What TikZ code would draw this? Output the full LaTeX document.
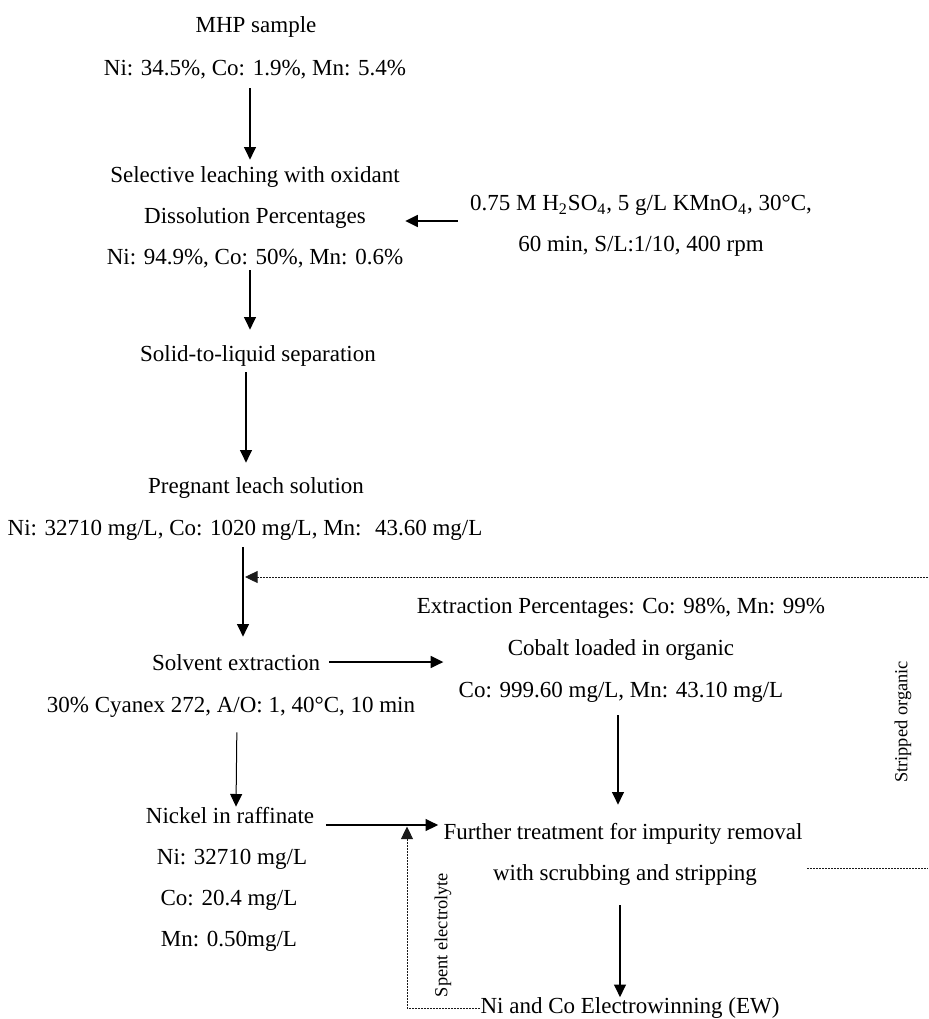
\documentclass[tikz,border=0pt]{standalone}
\usepackage{fontspec}
\setmainfont{Liberation Serif}
\usetikzlibrary{arrows.meta,positioning,calc}
\definecolor{procink}{HTML}{000000}
\definecolor{recink}{HTML}{1A1A1A}
\tikzset{
  stream/.style={-{Triangle[length=6.3pt,width=6pt]},line width=0.7pt,procink},
  recyc/.style={-{Triangle[length=6.3pt,width=6pt]},line width=0.45pt,recink,dash pattern=on 1pt off 0.5pt},
  lbl/.style={inner sep=0pt,text height=8pt,text depth=2.5pt,font=\fontsize{11.5}{13}\selectfont}
}
\begin{document}
\begin{tikzpicture}[x=0.5pt,y=-0.5pt,
  sidelbl/.style={inner sep=0pt,rotate=90,font=\fontsize{9.2}{11}\selectfont},
  thinstream/.style={stream,line width=0.5pt}]
\useasboundingbox (0,0) rectangle (928,1019);
% feed and leaching
\node[lbl] (mhp) at (256,27) {MHP sample};
\node[lbl] (mhpc) at (255,70) {Ni: 34.5\%, Co: 1.9\%, Mn: 5.4\%};
\node[lbl] (leach) at (255,177) {Selective leaching with oxidant};
\node[lbl] (diss) at (255,218) {Dissolution Percentages};
\node[lbl] (dissc) at (255,259) {Ni: 94.9\%, Co: 50\%, Mn: 0.6\%};
\node[lbl] (cond) at (641,205) {0.75 M H\textsubscript{2}SO\textsubscript{4}, 5 g/L KMnO\textsubscript{4}, 30°C,};
\node[lbl] (cond2) at (641,246) {60 min, S/L:1/10, 400 rpm};
\node[lbl] (sls) at (258,356) {Solid-to-liquid separation};
\node[lbl] (pls) at (256,488) {Pregnant leach solution};
\node[lbl] (plsc) at (245,530) {Ni: 32710 mg/L, Co: 1020 mg/L, Mn: \ 43.60 mg/L};
% solvent extraction
\node[lbl] (sx) at (236,665) {Solvent extraction};
\node[lbl] (sxc) at (231,707) {30\% Cyanex 272, A/O: 1, 40°C, 10 min};
\node[lbl] (ext) at (621,608) {Extraction Percentages: Co: 98\%, Mn: 99\%};
\node[lbl] (org) at (621,650) {Cobalt loaded in organic};
\node[lbl] (orgc) at (621,692) {Co: 999.60 mg/L, Mn: 43.10 mg/L};
% products
\node[lbl] (raf) at (230,818) {Nickel in raffinate};
\node[lbl] (rafni) at (232,859) {Ni: 32710 mg/L};
\node[lbl] (rafco) at (229,900) {Co: 20.4 mg/L};
\node[lbl] (rafmn) at (229,941) {Mn: 0.50mg/L};
\node[lbl] (treat) at (623,834) {Further treatment for impurity removal};
\node[lbl] (treat2) at (625,875) {with scrubbing and stripping};
\node[lbl] (ew) at (630,1008) {Ni and Co Electrowinning (EW)};
\node[sidelbl] (spent) at (443,935) {Spent electrolyte};
\node[sidelbl] (strip) at (903,722) {Stripped organic};
\coordinate (retstrip) at (928,577);
\coordinate (retorg) at (928,868);
\coordinate (spentjoin) at (407,826.5);
% main flow
\draw[stream,shorten <=3.75pt,shorten >=3.25pt] ([xshift=-2.5pt]mhpc.south) -- ([xshift=-2.5pt]mhpc.south |- leach.north);
\draw[stream,shorten <=6pt,shorten >=19.5pt] ([yshift=-8pt]cond.west) -- ([yshift=-8pt]cond.west -| diss.east);
\draw[stream,shorten <=0.25pt,shorten >=7.75pt] ([xshift=-2.5pt]dissc.south) -- ([xshift=-2.5pt]dissc.south |- sls.north);
\draw[stream,shorten <=2.75pt,shorten >=7.25pt] ([xshift=-6pt]sls.south) -- ([xshift=-6pt]sls.south |- pls.north);
\draw[stream,shorten <=3.25pt,shorten >=8.75pt] ([xshift=-1pt]plsc.south) -- ([xshift=-1pt]plsc.south |- sx.north);
\draw[stream,shorten <=4.5pt,shorten >=7.5pt] ([yshift=1.5pt]sx.east) -- ([yshift=1.5pt]sx.east -| orgc.west);
\draw[thinstream,shorten <=7.25pt,shorten >=0.25pt] ([xshift=3pt]sxc.south) -- ([xshift=2.5pt]sxc.south |- raf.north);
\draw[stream,shorten <=5.75pt,shorten >=2.5pt] ([yshift=-3.5pt]raf.east) -- ([yshift=-3.5pt]raf.east -| treat.west);
\draw[stream,shorten <=6.25pt,shorten >=9.25pt] ([xshift=-1.5pt]orgc.south) -- ([xshift=-1.5pt]orgc.south |- treat.north);
\draw[stream,shorten <=9.75pt] ([xshift=-2.5pt]treat2.south) -- ([xshift=-2.5pt]treat2.south |- ew.north);
% recycle streams
\draw[recyc] (retstrip) -- (retstrip -| plsc.south);
\draw[recyc,-] ([xshift=25pt,yshift=3.5pt]treat2.east) -- (retorg);
\draw[recyc] (ew.west) -| (spentjoin);
\end{tikzpicture}
\end{document}
